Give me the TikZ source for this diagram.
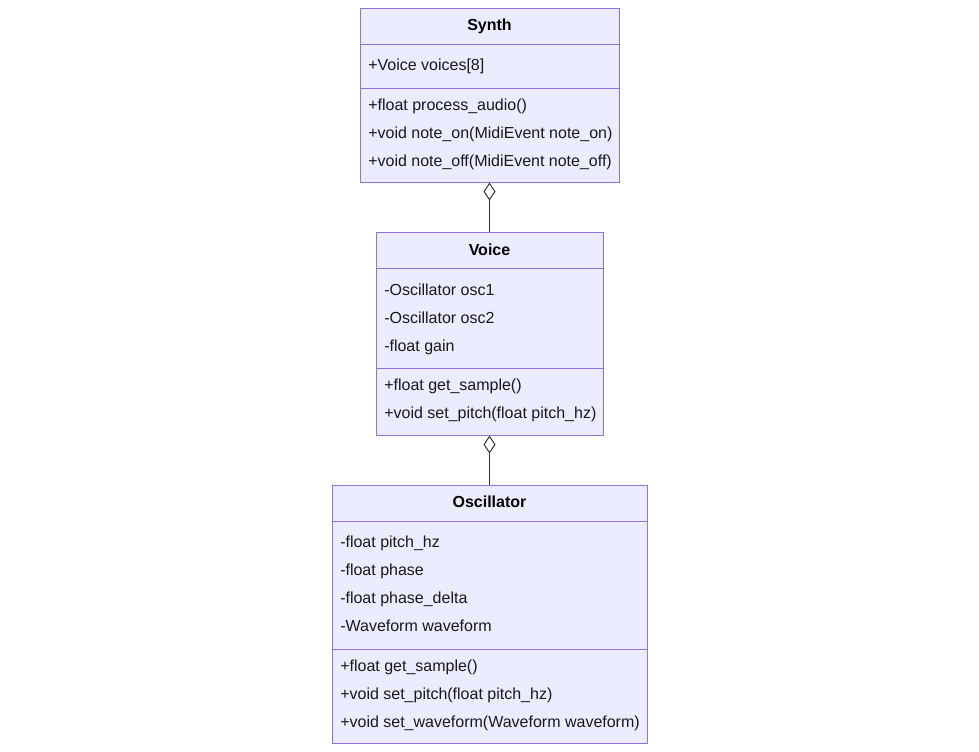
\documentclass[tikz,border=0pt]{standalone}
\usepackage{fontspec}
\setmainfont{Liberation Sans}
\usetikzlibrary{positioning, arrows.meta, calc}
\definecolor{umlfill}{HTML}{ECECFF}
\definecolor{umlborder}{HTML}{9370DB}
\definecolor{umllink}{HTML}{333333}

\begin{document}
\begin{tikzpicture}[
        x=0.75pt, y=-0.75pt,
        classbox/.style={draw=umlborder, fill=umlfill, line width=0.75pt, inner sep=0pt},
        divider/.style={draw=umlborder, line width=0.75pt},
        title/.style={font=\fontsize{12}{14}\selectfont\bfseries, inner sep=0pt, text height=8.6pt, text depth=0pt},
        member/.style={anchor=west, font=\fontsize{12}{14}\selectfont, inner sep=0pt, text height=8.6pt, text depth=0pt, text=black!90},
        aggr/.style={draw=umllink, line width=0.75pt, -{Diamond[open, length=13.5pt, width=9pt]}}
      ]
    \useasboundingbox (0,0) rectangle (979,751);

    % class boxes
    \node (synth) [classbox, minimum width=194.25pt, minimum height=130.5pt] at (489.5,95) {};
    \node (voice) [classbox, minimum width=170.25pt, minimum height=152.25pt] at (489.5,333.5) {};
    \node (osc) [classbox, minimum width=236.25pt, minimum height=193.5pt] at (489.5,614) {};

    % compartments
    \draw[divider] (synth.west |- 0,44) -- (synth.east |- 0,44);
    \draw[divider] (synth.west |- 0,88) -- (synth.east |- 0,88);
    \draw[divider] (voice.west |- 0,268) -- (voice.east |- 0,268);
    \draw[divider] (voice.west |- 0,368) -- (voice.east |- 0,368);
    \draw[divider] (osc.west |- 0,521) -- (osc.east |- 0,521);
    \draw[divider] (osc.west |- 0,649) -- (osc.east |- 0,649);

    % Synth
    \node (synthname) [title] at (489.5,25) {Synth};
    \node (synthvoices) [member] at (368,65) {+Voice voices[8]};
    \node (synthproc) [member] at (368,105) {+float process\_audio()};
    \node (synthon) [member] at (368,133) {+void note\_on(MidiEvent note\_on)};
    \node (synthoff) [member] at (368,161) {+void note\_off(MidiEvent note\_off)};

    % Voice
    \node (voicename) [title] at (489.5,250) {Voice};
    \node (voiceosca) [member] at (384,290) {-Oscillator osc1};
    \node (voiceoscb) [member] at (384,318) {-Oscillator osc2};
    \node (voicegain) [member] at (384,346) {-float gain};
    \node (voicesample) [member] at (384,385) {+float get\_sample()};
    \node (voicepitch) [member] at (384,413) {+void set\_pitch(float pitch\_hz)};

    % Oscillator
    \node (oscname) [title] at (489.5,502) {Oscillator};
    \node (oscpitch) [member] at (340,542) {-float pitch\_hz};
    \node (oscphase) [member] at (340,570) {-float phase};
    \node (oscdelta) [member] at (340,598) {-float phase\_delta};
    \node (oscwave) [member] at (340,626) {-Waveform waveform};
    \node (oscsample) [member] at (340,666) {+float get\_sample()};
    \node (oscsetpitch) [member] at (340,694) {+void set\_pitch(float pitch\_hz)};
    \node (oscsetwave) [member] at (340,722) {+void set\_waveform(Waveform waveform)};

    % aggregations
    \draw[aggr] (voice.north) -- (synth.south);
    \draw[aggr] (osc.north) -- (voice.south);

\end{tikzpicture}
\end{document}
